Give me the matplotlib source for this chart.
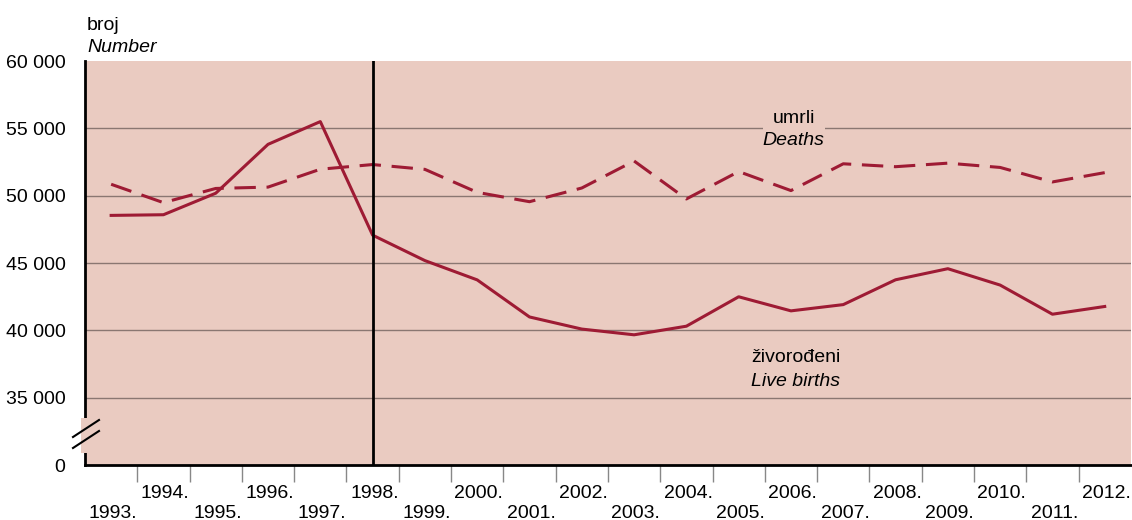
import matplotlib
matplotlib.use("Agg")
import matplotlib.pyplot as plt
import matplotlib.transforms as mtransforms
from matplotlib.patches import Rectangle
from matplotlib.lines import Line2D

plt.rcParams['font.family'] = ['Liberation Sans', 'DejaVu Sans']

years = [1993, 1994, 1995, 1996, 1997, 1998, 1999, 2000, 2001, 2002,
         2003, 2004, 2005, 2006, 2007, 2008, 2009, 2010, 2011, 2012]
live_births = [48535, 48584, 50182, 53811, 55501, 47068, 45179, 43746, 40993, 40094,
               39668, 40307, 42492, 41446, 41910, 43753, 44577, 43361, 41197, 41771]
deaths = [50846, 49482, 50536, 50636, 51964, 52311, 51953, 50246, 49552, 50569,
          52575, 49756, 51790, 50378, 52367, 52151, 52414, 52096, 51019, 51710]
y_ticks = [30000, 35000, 40000, 45000, 50000, 55000, 60000]
y_labels = ['0', '35 000', '40 000', '45 000', '50 000', '55 000', '60 000']

bg = '#EACBC1'
red = '#9E1B34'
fs = 14

fig = plt.figure(figsize=(11.32, 5.2), dpi=100)
ax = fig.add_axes([85/1132, 55/520, 1 - 85/1132 - 0.001, 404/520])
ax.set_facecolor(bg)

x = list(range(len(years)))
ax.plot(x, live_births, color=red, lw=2.2, zorder=3)
ax.plot(x, deaths, color=red, lw=2.2, dashes=(7, 3.5), zorder=3)

ax.set_xlim(-0.5, len(years) - 0.5)
ax.set_ylim(30000, 60000)

# grid
for v in y_ticks[1:-1]:
    ax.axhline(v, color='#8a7772', lw=1, zorder=1)

# vertical line at 1998
ax.axvline(years.index(1998), color='black', lw=2, zorder=4)

ax.set_yticks(y_ticks)
ax.set_yticklabels(y_labels, fontsize=fs)
ax.tick_params(axis='y', length=0, pad=14)

# x ticks at boundaries
ax.set_xticks([i + 0.5 for i in x[:-1]])
ax.set_xticklabels([])
ax.tick_params(axis='x', length=12, width=1, color='#888888', direction='out')

for i, yr in enumerate(years):
    row_y = -0.07 if i % 2 == 1 else -0.12
    ax.text(i + 0.5, row_y, f'{yr}.', transform=ax.get_xaxis_transform(),
            ha='right', va='center', fontsize=fs, clip_on=False)

for s in ['top', 'right']:
    ax.spines[s].set_visible(False)
ax.spines['left'].set_linewidth(2)
ax.spines['bottom'].set_linewidth(2)

# axis break
trans = mtransforms.blended_transform_factory(ax.transAxes, ax.transData)
ax.add_patch(Rectangle((-0.004, 30900), 0.008, 2600, transform=trans,
                       facecolor=bg, edgecolor='none', clip_on=False, zorder=5))
for y0, y1 in [(437, 420), (448, 431)]:
    ax.add_line(Line2D([73/1132, 99/1132], [1 - y0/520, 1 - y1/520],
                       transform=fig.transFigure, color='black', lw=1.5,
                       clip_on=False, zorder=6))

# annotations
ax.text(years.index(2006) + 0.05, 55750, 'umrli', ha='center', va='center', fontsize=fs,
        bbox=dict(facecolor=bg, edgecolor='none', pad=7), zorder=2)
ax.text(years.index(2006) + 0.05, 54120, 'Deaths', ha='center', va='center', fontsize=fs,
        style='italic', zorder=2)
ax.text(12.24, 37980, 'živorođeni', ha='left', va='center', fontsize=fs)
ax.text(12.24, 36190, 'Live births', ha='left', va='center', fontsize=fs,
        style='italic')

fig.text(87/1132, 1 - 25/520, 'broj', ha='left', va='center', fontsize=fs)
fig.text(87/1132, 1 - 47/520, 'Number', ha='left', va='center', fontsize=fs, style='italic')

fig.savefig('out.png', dpi=100)
